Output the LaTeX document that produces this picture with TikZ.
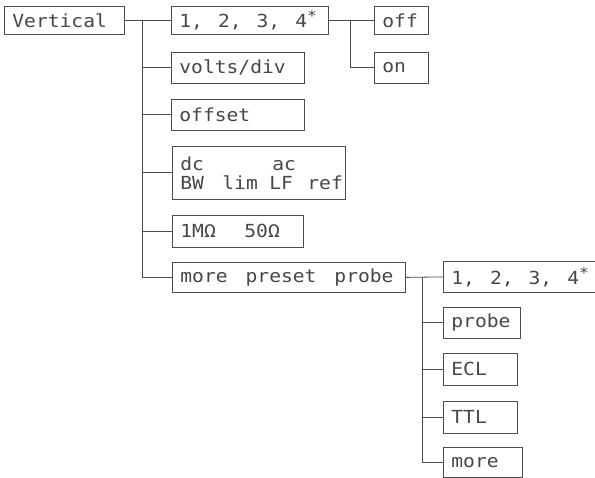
\documentclass[tikz,border=0pt]{standalone}
\usepackage{fontspec}
\setmainfont{DejaVu Sans}
\newfontfamily\plotfont[FakeStretch=1.09]{DejaVu Sans Mono}
\newcommand{\plotsize}{\plotfont\fontsize{18}{20}\selectfont}
\newcommand{\gap}{\nobreak\hspace{18pt}\nobreak}
\newcommand{\dgap}{\nobreak\hspace{15pt}\nobreak}
\newcommand{\supstar}{\raisebox{6pt}{\fontsize{15}{15}\selectfont*}}
\begin{document}
\begin{tikzpicture}[x=1pt,y=-1pt,
  box/.style={draw=black!70, line width=0.8pt, anchor=north west, inner xsep=8pt, inner ysep=0pt,
    minimum height=31pt, align=left, font=\plotsize, text=black!72},
  link/.style={draw=black!70, line width=0.8pt}]
\useasboundingbox (0,0) rectangle (595,478);
\fill[white] (0,0) rectangle (595,478);
% first level
\node[box, text width=104pt, minimum height=28pt] (vert) at (4,6) {Vertical};
\node[box, text width=141pt, minimum height=28pt] (c1) at (171,6) {\mbox{1,\dgap2,\dgap3,\dgap4\supstar}};
\node[box, text width=117pt] (volts) at (171,52) {volts/div};
\node[box, text width=117pt] (offset) at (171,99) {offset};
\node[box, text width=157pt, minimum height=53pt] (dcac) at (172,146)
  {\makebox[92pt][l]{dc}ac\\[-1pt]\makebox[42pt][l]{BW}\makebox[47pt][l]{lim}\makebox[38pt][l]{LF}ref};
\node[box, text width=115pt, minimum height=32pt] (ohm) at (172,215) {\makebox[64pt][l]{1MΩ}50Ω};
\node[box, text width=217pt, minimum height=30pt] (mp) at (172,262) {\mbox{more\gap preset\gap probe}};
% off / on
\node[box, text width=38pt, minimum height=28pt] (off) at (374,6) {off};
\node[box, text width=38pt] (on) at (374,52) {on};
% preset probe children
\node[box, text width=150pt] (p1) at (443,261) {\mbox{1,\dgap2,\dgap3,\dgap4\supstar}};
\node[box, text width=61pt] (probe) at (443,307) {probe};
\node[box, text width=58pt, minimum height=32pt] (ecl) at (443,353) {ECL};
\node[box, text width=58pt, minimum height=32pt] (ttl) at (443,401) {TTL};
\node[box, text width=63pt, minimum height=30pt] (more) at (443,447) {more};
% trunks
\coordinate (t1) at (142,0);
\coordinate (t2) at (350,0);
\coordinate (t3) at (422,0);
% connectors level 1
\draw[link] (vert.east) -- (c1.west);
\draw[link] (t1 |- c1.west) -- (t1 |- mp.west) -- (mp.west);
\foreach \n in {volts,offset,dcac,ohm} \draw[link] (t1 |- \n.west) -- (\n.west);
% off/on
\draw[link] (c1.east) -- (off.west);
\draw[link] (t2 |- off.west) -- (t2 |- on.west) -- (on.west);
% preset probe
\draw[link] (mp.east) -- (p1.west);
\draw[link] (t3 |- p1.west) -- (t3 |- more.west) -- (more.west);
\foreach \n in {probe,ecl,ttl} \draw[link] (t3 |- \n.west) -- (\n.west);
\end{tikzpicture}
\end{document}
